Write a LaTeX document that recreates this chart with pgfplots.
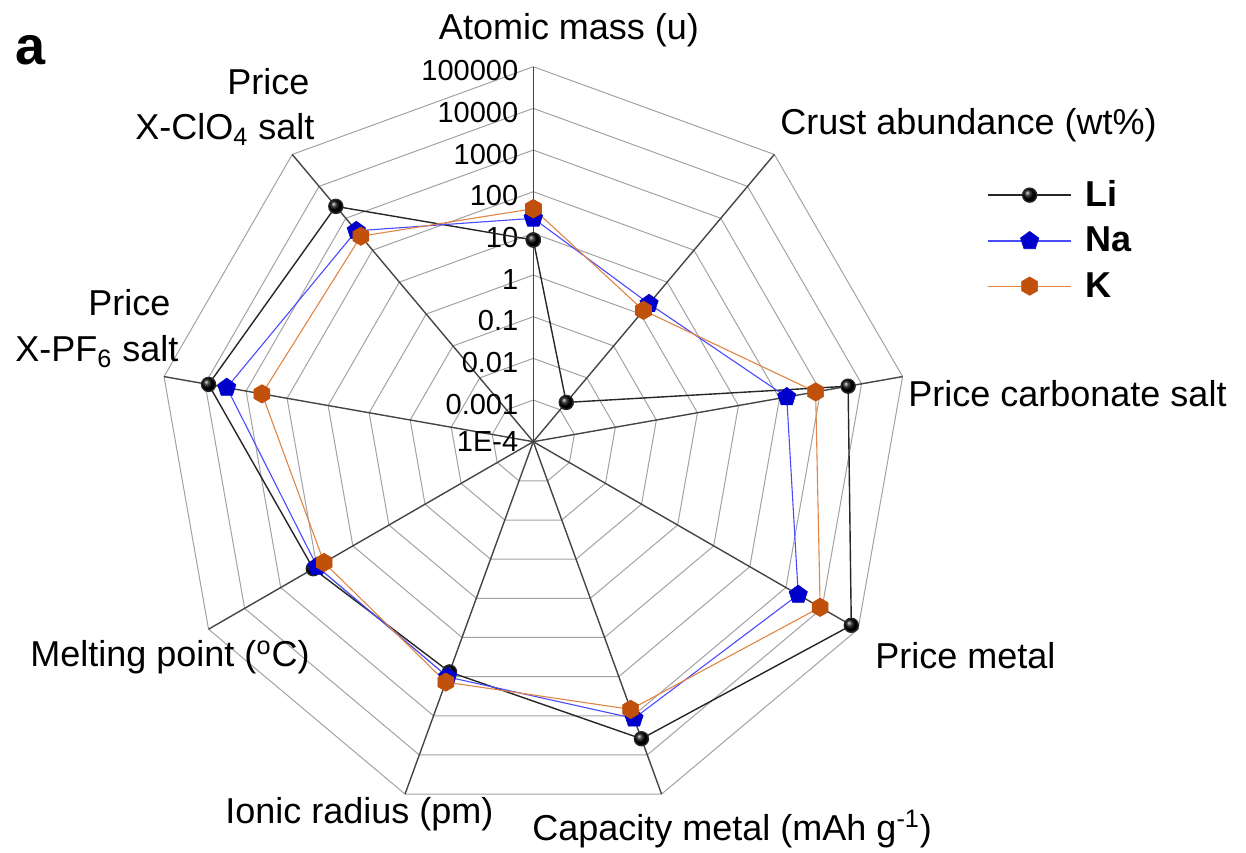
\documentclass[border=0pt]{standalone}
\usepackage{fontspec}
\setmainfont{Liberation Sans}
\usepackage{pgfplots}
\usepackage{pgfplotstable}
\pgfplotsset{compat=1.18}
\usepgfplotslibrary{polar}
\usetikzlibrary{plotmarks}

\definecolor{spoke}{HTML}{454545}
\definecolor{ringc}{HTML}{A2A2A2}
\definecolor{naline}{HTML}{4A4AFF}
\definecolor{namark}{HTML}{0000CC}
\definecolor{kline}{HTML}{E08545}
\definecolor{kmark}{HTML}{C0500A}

\pgfdeclareplotmark{hexagon*}{%
  \pgfpathmoveto{\pgfqpointpolar{90}{\pgfplotmarksize}}%
  \pgfpathlineto{\pgfqpointpolar{150}{\pgfplotmarksize}}%
  \pgfpathlineto{\pgfqpointpolar{210}{\pgfplotmarksize}}%
  \pgfpathlineto{\pgfqpointpolar{270}{\pgfplotmarksize}}%
  \pgfpathlineto{\pgfqpointpolar{330}{\pgfplotmarksize}}%
  \pgfpathlineto{\pgfqpointpolar{30}{\pgfplotmarksize}}%
  \pgfpathclose
  \pgfusepathqfillstroke}

% angle (deg), values of Li, Na, K on each spoke (log scale)
\pgfplotstableread{
angle Li Na K
90 6.94 22.99 39.10
50 0.0017 2.1 1.3
10 4700 150 760
330 65000 2200 8900
290 3861 1166 685
250 76 102 138
210 125 98 63
170 8200 2950 410
130 2360 405 274
90 6.94 22.99 39.10
}\radar

\newcommand\lab{\fontsize{18}{21}\selectfont}
\newcommand\tck{\fontsize{14.5}{17}\selectfont}

\begin{document}
\begin{tikzpicture}
\begin{polaraxis}[
  hide axis, scale only axis, width=375pt, height=375pt,
  ymin=0, ymax=9, xmin=0, xmax=360, clip=false,
  legend cell align=left,
  legend image code/.code={\draw[mark repeat=2,mark phase=2,#1] plot coordinates {(0pt,0pt) (20.75pt,0pt) (41.5pt,0pt)};},
  legend style={draw=none, fill=none, at={(axis description cs:1.105,0.854)}, anchor=north west,
    font=\bfseries\fontsize{18}{21}\selectfont, row sep=4.7pt, column sep=5pt, inner sep=0pt},
]
\coordinate (C) at (axis cs:0,0);
% rings
\pgfplotsinvokeforeach{1,2,3,4,5,6,7,8,9}{
  \addplot[ringc, line width=0.5pt, forget plot, no markers] coordinates {(90,#1) (50,#1) (10,#1) (330,#1) (290,#1) (250,#1) (210,#1) (170,#1) (130,#1) (90,#1)};
}
% spokes
\pgfplotsinvokeforeach{90,50,10,330,290,250,210,170,130}{
  \addplot[spoke, line width=0.7pt, forget plot, no markers] coordinates {(#1,0) (#1,9)};
}
% radial tick labels
\node[anchor=east, xshift=-4pt, yshift=-2pt, font=\tck] at (axis cs:90,9) {100000};
\node[anchor=east, xshift=-4pt, yshift=-2pt, font=\tck] at (axis cs:90,8) {10000};
\node[anchor=east, xshift=-4pt, yshift=-2pt, font=\tck] at (axis cs:90,7) {1000};
\node[anchor=east, xshift=-4pt, yshift=-2pt, font=\tck] at (axis cs:90,6) {100};
\node[anchor=east, xshift=-4pt, yshift=-2pt, font=\tck] at (axis cs:90,5) {10};
\node[anchor=east, xshift=-4pt, yshift=-2pt, font=\tck] at (axis cs:90,4) {1};
\node[anchor=east, xshift=-4pt, yshift=-2pt, font=\tck] at (axis cs:90,3) {0.1};
\node[anchor=east, xshift=-4pt, yshift=-2pt, font=\tck] at (axis cs:90,2) {0.01};
\node[anchor=east, xshift=-4pt, yshift=-2pt, font=\tck] at (axis cs:90,1) {0.001};
\node[anchor=east, xshift=-4pt, yshift=0pt, font=\tck] at (axis cs:90,0) {1E-4};

\addplot[black!85, line width=0.7pt, mark=ball, mark size=3.5pt, mark options={ball color=black}]
  table[x=angle, y expr={log10(\thisrow{Li})+4}] {\radar};
\addlegendentry{Li}
\addplot[naline, line width=0.55pt, mark=pentagon*, mark size=4.8pt, mark options={fill=namark, draw=namark, line width=0.3pt}]
  table[x=angle, y expr={log10(\thisrow{Na})+4}] {\radar};
\addlegendentry{Na}
\addplot[kline, line width=0.55pt, mark=hexagon*, mark size=4.6pt, mark options={fill=kmark, draw=kmark, line width=0.3pt}]
  table[x=angle, y expr={log10(\thisrow{K})+4}] {\radar};
\addlegendentry{K}
\end{polaraxis}
\path ([shift={(-266.65pt,-205.15pt)}]C) rectangle ([shift={(356.35pt,220.85pt)}]C);
% axis titles
\node[anchor=base, font=\lab, inner sep=0pt] at ([shift={(17.85pt,200.85pt)}]C) {Atomic mass (u)};
\node[anchor=base west, font=\lab, inner sep=0pt] at ([shift={(123.35pt,153.35pt)}]C) {Crust abundance (wt\%)};
\node[anchor=base west, font=\lab, inner sep=0pt] at ([shift={(187.35pt,17.5pt)}]C) {Price carbonate salt};
\node[anchor=base west, font=\lab, inner sep=0pt] at ([shift={(170.85pt,-113.3pt)}]C) {Price metal};
\node[anchor=base west, font=\lab, inner sep=0pt] at ([shift={(-0.65pt,-199.15pt)}]C) {Capacity metal (mAh g\textsuperscript{-1})};
\node[anchor=base west, font=\lab, inner sep=0pt] at ([shift={(-154.15pt,-190.65pt)}]C) {Ionic radius (pm)};
\node[anchor=base west, font=\lab, inner sep=0pt] at ([shift={(-251.65pt,-112.5pt)}]C) {Melting point (\textsuperscript{o}C)};
\node[anchor=base west, font=\lab, inner sep=0pt] at ([shift={(-222.65pt,63.35pt)}]C) {Price};
\node[anchor=base west, font=\lab, inner sep=0pt] at ([shift={(-259.15pt,40pt)}]C) {X-PF\textsubscript{6} salt};
\node[anchor=base west, font=\lab, inner sep=0pt] at ([shift={(-153.15pt,173.35pt)}]C) {Price};
\node[anchor=base west, font=\lab, inner sep=0pt] at ([shift={(-199.15pt,150.85pt)}]C) {X-ClO\textsubscript{4} salt};
\node[anchor=base west, font=\bfseries\fontsize{27}{30}\selectfont, inner sep=0pt] at ([shift={(-259.15pt,188.35pt)}]C) {a};
\end{tikzpicture}
\end{document}
